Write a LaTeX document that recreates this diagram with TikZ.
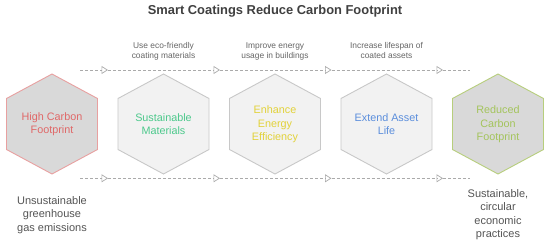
\documentclass[tikz,border=0pt]{standalone}
\usepackage{fontspec}
\setmainfont{Liberation Sans}
\usetikzlibrary{arrows.meta}
\definecolor{titlec}{HTML}{404040}
\definecolor{labelc}{HTML}{666666}
\definecolor{bottomc}{HTML}{555555}
\definecolor{linec}{HTML}{AAAAAA}
\definecolor{darkfill}{HTML}{D9D9D9}
\definecolor{lightfill}{HTML}{F2F2F2}
\definecolor{lightborder}{HTML}{C8C8C8}
\definecolor{redtxt}{HTML}{E06868}
\definecolor{redborder}{HTML}{E8A0A0}
\definecolor{greentxt}{HTML}{4DC98C}
\definecolor{yellowtxt}{HTML}{E2D23A}
\definecolor{bluetxt}{HTML}{5B8EDC}
\definecolor{olivetxt}{HTML}{A4C45C}
\definecolor{oliveborder}{HTML}{B7CE7C}
\tikzset{
  hexpath/.style={line width=0.9pt},
  hextext/.style={font=\fontsize{10.8}{13.3}\selectfont, align=center, inner sep=0pt},
  toplabel/.style={font=\fontsize{8.4}{10}\selectfont, text=labelc, align=center, inner sep=0pt},
  sidetext/.style={font=\fontsize{11}{13.5}\selectfont, text=bottomc, align=center, inner sep=0pt},
  flow/.style={draw=linec, line width=0.7pt, dash pattern=on 3pt off 2pt},
  flowarrow/.style={flow, -{Triangle[open, length=6.5pt, width=8pt, line width=0.7pt]}},
}
\newcommand{\hexat}[3]{%
  \draw[hexpath, draw=#2, fill=#3]
    (#1,74) -- ++(45.5,24.5) -- ++(0,51) -- ++(-45.5,24.5) -- ++(-45.5,-24.5) -- ++(0,-51) -- cycle;}
\begin{document}
\begin{tikzpicture}[x=1pt,y=-1pt]
\useasboundingbox (0,0) rectangle (550,245);
\fill[white] (0,0) rectangle (550,245);

% title
\node[anchor=base, font=\fontsize{12.9}{15}\selectfont\bfseries, text=titlec, inner sep=0pt] (title) at (275,15) {Smart Coatings Reduce Carbon Footprint};

% hexagons
\hexat{52}{redborder}{darkfill}
\hexat{163.5}{lightborder}{lightfill}
\hexat{275}{lightborder}{lightfill}
\hexat{386.5}{lightborder}{lightfill}
\hexat{498}{oliveborder}{darkfill}

\node[hextext, text=redtxt] (h1) at (52,124.3) {High Carbon\\Footprint};
\node[hextext, text=greentxt] (h2) at (163.5,124.3) {Sustainable\\Materials};
\node[hextext, text=yellowtxt] (h3) at (275,124.3) {Enhance\\Energy\\Efficiency};
\node[hextext, text=bluetxt] (h4) at (386.5,124.3) {Extend Asset\\Life};
\node[hextext, text=olivetxt] (h5) at (498,124.3) {Reduced\\Carbon\\Footprint};

% top labels
\node[toplabel] (l2) at (163.5,51) {Use eco-friendly\\coating materials};
\node[toplabel] (l3) at (275,51) {Improve energy\\usage in buildings};
\node[toplabel] (l4) at (386.5,51) {Increase lifespan of\\coated assets};

% side texts
\node[sidetext] (s1) at (52,215) {Unsustainable\\greenhouse\\gas emissions};
\node[sidetext] (s5) at (498,214.5) {Sustainable,\\circular\\economic\\practices};

% dashed flow lines
\foreach \y/\n in {70/t,178.3/b}{
  \coordinate (\n0) at (80,\y);
  \coordinate (\n1) at (108,\y);
  \coordinate (\n2) at (220,\y);
  \coordinate (\n3) at (331.5,\y);
  \coordinate (\n4) at (443,\y);
  \coordinate (\n5) at (470,\y);
  \draw[flowarrow] (\n0) -- (\n1);
  \draw[flowarrow] (\n1) -- (\n2);
  \draw[flowarrow] (\n2) -- (\n3);
  \draw[flowarrow] (\n3) -- (\n4);
  \draw[flow] (\n4) -- (\n5);
}
\end{tikzpicture}
\end{document}
